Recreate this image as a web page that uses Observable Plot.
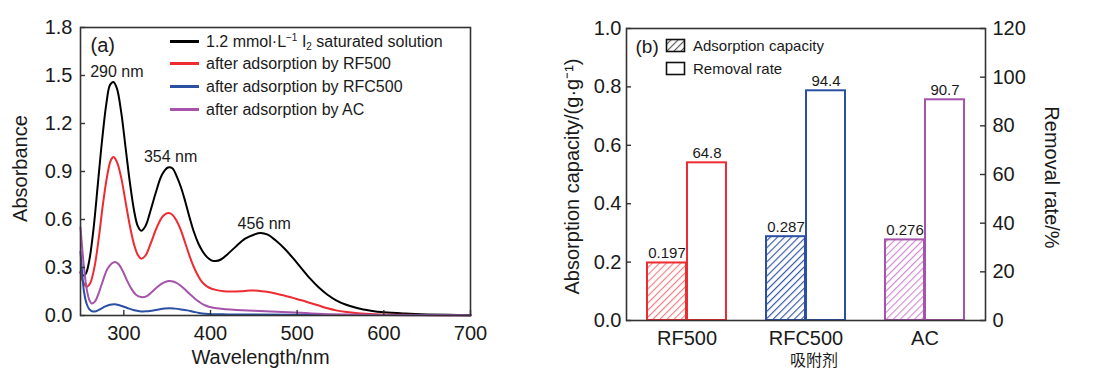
<!DOCTYPE html>
<html>
<head>
<meta charset="utf-8">
<script src="https://cdn.jsdelivr.net/npm/d3@7"></script>
<script src="https://cdn.jsdelivr.net/npm/@observablehq/plot@0.6"></script>
<style>
  body { margin: 0; background: #fff; font-family: "Liberation Sans", Arial, sans-serif; }
  #wrap { position: relative; width: 1110px; height: 372px; overflow: hidden; background: #fff; }
  #pa { position: absolute; left: 0; top: 0; width: 540px; height: 372px; }
  #pb { position: absolute; left: 540px; top: 0; width: 570px; height: 372px; }
  .row { position: absolute; white-space: nowrap; line-height: 1; color: #1a1a1a; }
  .sw { position: absolute; }
  .sup { font-size: 10px; vertical-align: 6px; }
  .sub { font-size: 10px; vertical-align: -3px; }
</style>
</head>
<body>
<div id="wrap"><div id="pa"></div><div id="pb"></div></div>
<script>
// ---------- Panel (a) data: UV-vis spectra [wavelength nm, absorbance] ----------
const spectrumI2 = [[250,0.27],[253,0.25],[256,0.26],[260,0.34],[265,0.54],[270,0.82],[275,1.10],[280,1.33],[284,1.44],[288,1.46],[292,1.42],[297,1.27],[302,1.05],[307,0.83],[312,0.65],[316,0.56],[320,0.53],[325,0.56],[330,0.64],[337,0.77],[344,0.88],[351,0.925],[356,0.92],[361,0.87],[366,0.80],[371,0.71],[376,0.61],[381,0.52],[386,0.45],[391,0.40],[396,0.365],[401,0.345],[406,0.34],[412,0.35],[420,0.385],[430,0.435],[440,0.48],[450,0.505],[458,0.515],[466,0.505],[475,0.47],[485,0.42],[495,0.36],[505,0.295],[515,0.23],[525,0.175],[535,0.13],[545,0.095],[555,0.07],[570,0.045],[585,0.03],[600,0.02],[625,0.012],[650,0.007],[675,0.004],[700,0.002]];
const spectrumRF500 = [[250,0.27],[253,0.21],[257,0.18],[261,0.20],[266,0.30],[271,0.48],[276,0.70],[281,0.88],[285,0.97],[288,0.99],[292,0.96],[297,0.86],[302,0.71],[307,0.56],[312,0.44],[316,0.38],[320,0.355],[325,0.375],[331,0.45],[338,0.55],[345,0.62],[351,0.64],[356,0.63],[361,0.59],[366,0.53],[371,0.45],[376,0.37],[381,0.30],[386,0.245],[391,0.205],[398,0.175],[406,0.16],[415,0.152],[425,0.15],[435,0.152],[445,0.156],[455,0.155],[465,0.148],[475,0.138],[485,0.125],[495,0.11],[505,0.095],[515,0.078],[525,0.062],[535,0.045],[545,0.032],[555,0.023],[570,0.014],[590,0.008],[620,0.004],[660,0.002],[700,0.001]];
const spectrumRFC500 = [[250,0.40],[252,0.26],[254,0.15],[257,0.075],[260,0.04],[264,0.025],[268,0.027],[273,0.04],[278,0.055],[284,0.067],[289,0.07],[294,0.066],[300,0.055],[306,0.043],[312,0.033],[318,0.027],[325,0.026],[332,0.03],[340,0.038],[347,0.044],[353,0.046],[359,0.043],[366,0.038],[373,0.032],[380,0.024],[387,0.016],[394,0.011],[402,0.008],[420,0.007],[450,0.006],[500,0.005],[600,0.003],[700,0.002]];
const spectrumAC = [[250,0.55],[252,0.42],[254,0.30],[257,0.17],[260,0.10],[263,0.075],[267,0.09],[271,0.14],[276,0.22],[281,0.29],[286,0.325],[290,0.335],[294,0.32],[299,0.275],[304,0.215],[309,0.165],[314,0.13],[320,0.115],[326,0.12],[332,0.145],[339,0.18],[346,0.205],[352,0.215],[357,0.212],[362,0.2],[367,0.18],[372,0.155],[377,0.13],[382,0.105],[387,0.085],[392,0.068],[398,0.055],[405,0.047],[415,0.04],[430,0.035],[450,0.03],[470,0.025],[490,0.02],[510,0.015],[530,0.01],[560,0.006],[600,0.003],[650,0.002],[700,0.001]];

const seriesLabels = [
  '1.2 mmol·L<span class="sup">−1</span> I<span class="sub">2</span> saturated solution',
  'after adsorption by RF500',
  'after adsorption by RFC500',
  'after adsorption by AC'
];
const seriesColors = ["#000000", "#ee2b30", "#2a4fa3", "#a653ab"];
const spectra = [spectrumI2, spectrumRF500, spectrumRFC500, spectrumAC];

const peakLabels = ["290 nm", "354 nm", "456 nm"];
const peakLabelWl = [292, 354, 462];
const peakLabelAbs = [1.525, 0.99, 0.57];

const xTicksA = [300, 400, 500, 600, 700];
const yTicksA = [0, 0.3, 0.6, 0.9, 1.2, 1.5, 1.8];

// ---------- Panel (b) data ----------
const sorbents = ["RF500", "RFC500", "AC"];
const capacity = [0.197, 0.287, 0.276];
const removalRate = [64.8, 94.4, 90.7];
const barColors = ["#ee2b30", "#2a4fa3", "#a653ab"];
const hatchColors = ["#f07b7f", "#2a4fa3", "#cf85d2"];
const yTicksB = [0, 0.2, 0.4, 0.6, 0.8, 1.0];
const rateTicks = [0, 20, 40, 60, 80, 100, 120];
const rateMax = 120;

const FONT = '"Liberation Sans", Arial, sans-serif';
const INK = "#1a1a1a";
const FRAME = "#333333";
const TICK = 5;

// ================= Panel (a) =================
const A_W = 540, A_H = 372, A_ML = 80, A_MR = 70, A_MT = 27, A_MB = 57;
const aInnerW = A_W - A_ML - A_MR, aInnerH = A_H - A_MT - A_MB;
const lineRows = spectra.flatMap((s, k) => s.map(([wl, a]) => ({wl, a, k, color: seriesColors[k]})));
const peakRows = peakLabels.map((t, i) => ({t, wl: peakLabelWl[i], a: peakLabelAbs[i]}));

const plotA = Plot.plot({
  width: A_W, height: A_H,
  marginLeft: A_ML, marginRight: A_MR, marginTop: A_MT, marginBottom: A_MB,
  x: {domain: [250, 700]},
  y: {domain: [0, 1.8]},
  color: {type: "identity"},
  style: {fontFamily: FONT, fontSize: "20px", color: INK, background: "#fff"},
  marks: [
    Plot.line(lineRows, {x: "wl", y: "a", z: "k", stroke: "color", strokeWidth: 2, curve: "catmull-rom"}),
    Plot.text(peakRows, {x: "wl", y: "a", text: "t", fontSize: 16, fill: INK, lineAnchor: "middle"}),
    Plot.text(["(a)"], {frameAnchor: "top-left", dx: 10, dy: 10, fontSize: 20, fill: INK}),
    // inward ticks
    Plot.tickX(xTicksA, {x: d => d, insetTop: aInnerH - TICK, stroke: FRAME, strokeWidth: 1.4}),
    Plot.tickY(yTicksA, {y: d => d, insetRight: aInnerW - TICK, stroke: FRAME, strokeWidth: 1.4}),
    Plot.frame({stroke: FRAME, strokeWidth: 1.6}),
    Plot.axisX(xTicksA, {tickSize: 0, tickPadding: 10, label: null, fontSize: 20, fill: INK}),
    Plot.axisY(yTicksA, {tickSize: 0, tickPadding: 8, label: null, tickFormat: d => d.toFixed(1), fontSize: 20, fill: INK}),
    Plot.text(["Absorbance"], {frameAnchor: "left", dx: -60, dy: -3, rotate: -90, textAnchor: "middle", lineAnchor: "middle", fontSize: 20, fill: INK}),
    Plot.text(["Wavelength/nm"], {frameAnchor: "bottom", dx: -15, dy: 42, textAnchor: "middle", lineAnchor: "middle", fontSize: 20, fill: INK})
  ]
});
document.getElementById("pa").appendChild(plotA);

// legend (a)
const legA = document.getElementById("pa");
const legRowY = [41, 63.5, 86.5, 109.5];
seriesLabels.forEach((lab, k) => {
  const sw = document.createElement("div");
  sw.className = "sw";
  Object.assign(sw.style, {left: "170px", top: (legRowY[k] - 1.5) + "px", width: "29px", height: "3px", background: seriesColors[k]});
  legA.appendChild(sw);
  const tx = document.createElement("div");
  tx.className = "row";
  tx.style.left = "206px";
  tx.style.top = (legRowY[k] - 8) + "px";
  tx.style.fontSize = "16px";
  tx.innerHTML = lab;
  legA.appendChild(tx);
});

// ================= Panel (b) =================
const B_W = 570, B_H = 372, B_ML = 86, B_MR = 125, B_MT = 28, B_MB = 52;
const bInnerW = B_W - B_ML - B_MR;
const barRows = sorbents.map((c, i) => ({
  c, cap: capacity[i], rate: removalRate[i], ratio: removalRate[i] / rateMax,
  color: barColors[i], hatch: `url(#hatch${i})`
}));

const plotB = Plot.plot({
  width: B_W, height: B_H,
  marginLeft: B_ML, marginRight: B_MR, marginTop: B_MT, marginBottom: B_MB,
  x: {domain: sorbents, paddingInner: 1 / 3, paddingOuter: 1 / 6},
  y: {domain: [0, 1]},
  color: {type: "identity"},
  style: {fontFamily: FONT, fontSize: "20px", color: INK, background: "#fff"},
  marks: [
    Plot.barY(barRows, {x: "c", y: "cap", fill: "hatch", stroke: "color", strokeWidth: 2, insetRight: 40}),
    Plot.barY(barRows, {x: "c", y: "ratio", fill: "#fff", stroke: "color", strokeWidth: 2, insetLeft: 40}),
    Plot.text(barRows, {x: "c", y: "cap", text: d => d.cap.toFixed(3), dx: -20, dy: -5, lineAnchor: "bottom", fontSize: 15, fill: INK}),
    Plot.text(barRows, {x: "c", y: "ratio", text: d => d.rate.toFixed(1), dx: 20, dy: -5, lineAnchor: "bottom", fontSize: 15, fill: INK}),
    Plot.text(["(b)"], {frameAnchor: "top-left", dx: 9, dy: 11, fontSize: 19, fill: INK}),
    Plot.tickY(yTicksB, {y: d => d, insetRight: bInnerW - TICK, stroke: FRAME, strokeWidth: 1.4}),
    Plot.tickY(rateTicks.map(v => v / rateMax), {y: d => d, insetLeft: bInnerW - TICK, stroke: FRAME, strokeWidth: 1.4}),
    Plot.frame({stroke: FRAME, strokeWidth: 1.6}),
    Plot.axisX({tickSize: 0, tickPadding: 10, label: null, fontSize: 20, fill: INK}),
    Plot.axisY(yTicksB, {tickSize: 0, tickPadding: 5, label: null, tickFormat: d => d.toFixed(1), fontSize: 20, fill: INK}),
    Plot.axisY(rateTicks.map(v => v / rateMax), {anchor: "right", tickSize: 0, tickPadding: 7, label: null, tickFormat: d => String(Math.round(d * rateMax)), fontSize: 20, fill: INK}),
    Plot.text(["Absorption capacity/(g·g⁻¹)"], {frameAnchor: "left", dx: -54, dy: 2, rotate: -90, textAnchor: "middle", lineAnchor: "middle", fontSize: 20, fill: INK}),
    Plot.text(["Removal rate/%"], {frameAnchor: "right", dx: 66, dy: 3, rotate: 90, textAnchor: "middle", lineAnchor: "middle", fontSize: 20, fill: INK}),
    Plot.text(["吸附剂"], {frameAnchor: "bottom", dx: 8, dy: 40, textAnchor: "middle", lineAnchor: "middle", fontSize: 16, fontFamily: '"Noto Sans CJK SC", sans-serif', fill: INK})
  ]
});

// hatch patterns
const HS = 5;
const defs = d3.select(plotB).insert("defs", ":first-child");
hatchColors.concat(["#555"]).forEach((hc, i) => {
  const id = i < hatchColors.length ? `hatch${i}` : "hatchLegend";
  const p = defs.append("pattern")
    .attr("id", id).attr("patternUnits", "userSpaceOnUse")
    .attr("width", HS).attr("height", HS)
    .attr("patternTransform", "rotate(45)");
  p.append("rect").attr("width", HS).attr("height", HS).attr("fill", "#fff");
  p.append("line").attr("x1", 0.6).attr("y1", 0).attr("x2", 0.6).attr("y2", HS)
    .attr("stroke", hc).attr("stroke-width", 1.1);
});
document.getElementById("pb").appendChild(plotB);

// legend (b)
const legB = document.getElementById("pb");
const legBItems = ["Adsorption capacity", "Removal rate"];
const legBY = [45.5, 68.3];
legBItems.forEach((lab, k) => {
  const ns = "http://www.w3.org/2000/svg";
  const s = document.createElementNS(ns, "svg");
  s.setAttribute("width", 22); s.setAttribute("height", 15);
  s.setAttribute("class", "sw");
  s.style.left = "125px"; s.style.top = (legBY[k] - 7.5) + "px";
  const r = document.createElementNS(ns, "rect");
  r.setAttribute("x", 1.5); r.setAttribute("y", 1.5); r.setAttribute("width", 18); r.setAttribute("height", 12);
  r.setAttribute("fill", k === 0 ? "url(#hatchLegend)" : "#fff");
  r.setAttribute("stroke", "#111"); r.setAttribute("stroke-width", 1.6);
  s.appendChild(r);
  legB.appendChild(s);
  const tx = document.createElement("div");
  tx.className = "row";
  tx.style.left = "153px";
  tx.style.top = (legBY[k] - 7.5) + "px";
  tx.style.fontSize = "15px";
  tx.textContent = lab;
  legB.appendChild(tx);
});
</script>
</body>
</html>
